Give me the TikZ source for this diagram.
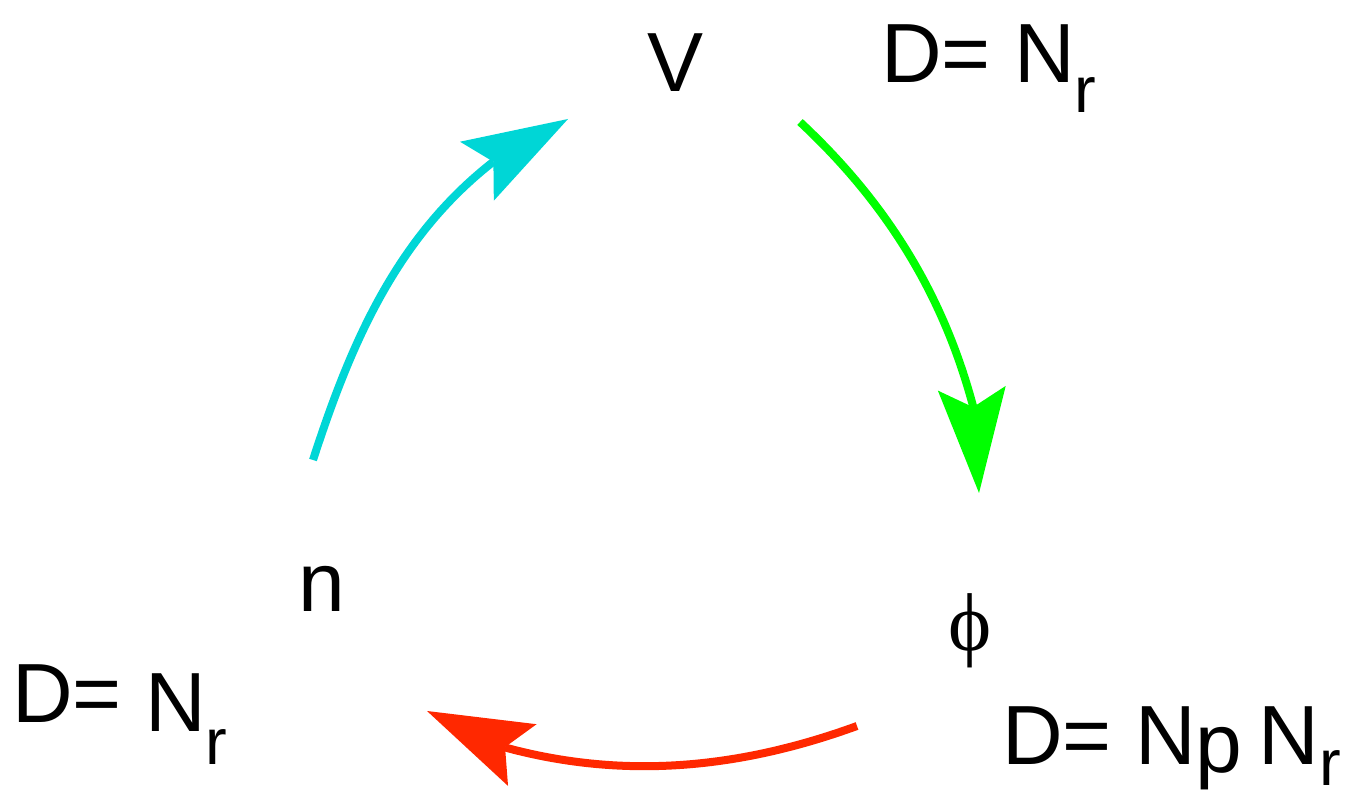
\documentclass[tikz,border=0pt]{standalone}
\usepackage{fontspec}
\setmainfont{Liberation Sans}
\newfontfamily\greekserif{Liberation Serif}
\usetikzlibrary{arrows.meta}
\definecolor{cyanarr}{RGB}{0,214,214}
\definecolor{greenarr}{RGB}{0,255,0}
\definecolor{redarr}{RGB}{255,40,0}
\newcommand{\lowsub}[2]{\raisebox{-#1pt}{\fontsize{65}{65}\selectfont #2}}
\begin{document}
\begin{tikzpicture}[x=1pt,y=1pt,
  lbl/.style={inner sep=0pt, font=\fontsize{84}{90}\selectfont},
  arc/.style={line width=8pt, line join=round, -{Stealth[length=105pt,width=68pt,inset=19pt,line width=0pt]}},
]
\useasboundingbox (0,0) rectangle (1346,794);
% labels
\node[lbl, anchor=base] (V) at (675.5,702) {V};
\node[lbl, anchor=base west] (dtop) at (881,711) {D= N\lowsub{30}{r}};
\node[lbl, anchor=base] (n) at (322,182) {n};
\node[lbl, anchor=base west] (dleft) at (12,71) {D= \raisebox{-9pt}{N\lowsub{33}{r}}};
\node[inner sep=0pt, font=\greekserif\fontsize{82}{90}\selectfont, anchor=center] (phi) at (970,163.5) {ϕ};
\node[lbl, anchor=base west] (dright) at (1002,29) {D= N\raisebox{-8pt}{p}\hspace{16pt}N\lowsub{21}{r}};
% arrow points: start, notch of the arrowhead, tip
\coordinate (c1) at (313,334);
\coordinate (c2) at (493,632);
\coordinate (c3) at (568,675);
\coordinate (g1) at (800,672);
\coordinate (g2) at (973,388);
\coordinate (g3) at (979,301);
\coordinate (r1) at (857,68);
\coordinate (r2) at (507,46);
\coordinate (r3) at (427,83);
\draw[arc, cyanarr] (c1) to[out=72,in=218,looseness=0.9] (c2) -- (c3);
\draw[arc, greenarr] (g1) to[out=-43,in=105,looseness=0.9] (g2) -- (g3);
\draw[arc, redarr] (r1) to[out=200,in=345,looseness=0.9] (r2) -- (r3);
\end{tikzpicture}
\end{document}
